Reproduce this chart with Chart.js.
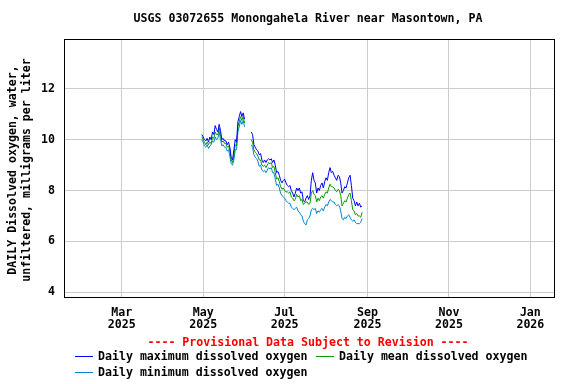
<!DOCTYPE html>
<html>
<head>
<meta charset="utf-8">
<script src="https://cdn.jsdelivr.net/npm/chart.js@4.4.0/dist/chart.umd.min.js"></script>
<style>
  html, body { margin: 0; padding: 0; background: #fff; }
  #wrap { width: 576px; height: 384px; }
</style>
</head>
<body>
<div id="wrap"><canvas id="grafico" width="576" height="384"></canvas></div>
<script>
// x values are days since Jan 1, 2025
const startDay = 119; // Apr 30, 2025, first daily value

const tickDays = [59, 120, 181, 243, 304, 365];
const tickLabels = [["Mar", "2025"], ["May", "2025"], ["Jul", "2025"], ["Sep", "2025"], ["Nov", "2025"], ["Jan", "2026"]];
const yTicks = [4, 6, 8, 10, 12];

// daily values, mg/L (null = missing day)
const dailyMax = [
  10.2, 10.1, 10.0, 9.95, 10.05, 9.9, 10.1, 10.0, 10.3, 10.2,
  10.55, 10.4, 10.3, 10.6, 10.35, 10.0, 10.05, 9.95, 9.95, 9.8,
  9.9, 9.7, 9.3, 9.2, 9.6, 10.0, 9.9, 10.7, 10.9, 11.1,
  10.9, 11.05, 10.8, null, null, null, null, 10.3, 10.2, 9.8,
  9.7, 9.6, 9.55, 9.4, 9.45, 9.2, 9.1, 9.2, 9.1, 9.2,
  9.25, 9.2, 9.25, 9.1, 9.2, 9.0, 8.7, 8.75, 8.6, 8.4,
  8.3, 8.4, 8.45, 8.3, 8.2, 8.15, 8.2, 8.0, 7.9, 7.75,
  7.9, 8.1, 8.0, 8.1, 7.9, 7.95, 7.6, 7.55, 7.7, 7.8,
  7.65, 7.8, 8.4, 8.7, 8.4, 8.3, 7.9, 8.1, 8.0, 8.2,
  8.3, 8.1, 8.35, 8.5, 8.4, 8.7, 8.9, 8.7, 8.75, 8.6,
  8.5, 8.4, 8.6, 8.55, 8.3, 7.9, 8.0, 8.15, 8.1, 8.3,
  8.5, 8.6, 8.2, 7.7, 7.6, 7.4, 7.55, 7.4, 7.5, 7.35,
  7.4
];
const dailyMean = [
  10.1, 10.0, 9.9, 9.8, 9.9, 9.8, 9.9, 9.85, 10.1, 10.05,
  10.3, 10.2, 10.2, 10.45, 10.2, 9.9, 9.95, 9.85, 9.85, 9.7,
  9.75, 9.55, 9.2, 9.1, 9.4, 9.8, 9.75, 10.5, 10.7, 10.9,
  10.75, 10.9, 10.65, null, null, null, null, 10.0, 9.9, 9.6,
  9.5, 9.45, 9.35, 9.2, 9.2, 9.0, 8.95, 9.0, 8.9, 9.0,
  9.1, 9.05, 9.1, 8.9, 8.95, 8.7, 8.45, 8.5, 8.35, 8.15,
  8.05, 8.1, 8.0, 7.95, 7.95, 7.9, 7.95, 7.75, 7.7, 7.6,
  7.65, 7.85, 7.75, 7.8, 7.6, 7.65, 7.45, 7.5, 7.55, 7.55,
  7.45, 7.5, 7.9, 8.0, 7.85, 7.8, 7.55, 7.7, 7.6, 7.75,
  7.8, 7.7, 7.85, 7.95, 7.9, 8.1, 8.25, 8.15, 8.15, 8.1,
  8.0, 7.95, 8.05, 8.0, 7.8, 7.4, 7.5, 7.6, 7.55, 7.7,
  7.85, 7.9, 7.6, 7.25, 7.2, 7.05, 7.1, 7.0, 7.0, 6.95,
  7.15
];
const dailyMin = [
  10.0, 9.9, 9.75, 9.7, 9.8, 9.65, 9.75, 9.8, 9.95, 9.9,
  10.1, 10.0, 10.05, 10.3, 10.0, 9.75, 9.8, 9.7, 9.7, 9.55,
  9.6, 9.35, 9.05, 9.0, 9.2, 9.6, 9.6, 10.3, 10.5, 10.75,
  10.6, 10.75, 10.5, null, null, null, null, 9.8, 9.7, 9.4,
  9.3, 9.25, 9.15, 8.95, 9.0, 8.8, 8.75, 8.8, 8.7, 8.8,
  8.9, 8.85, 8.9, 8.7, 8.7, 8.45, 8.2, 8.25, 8.1, 7.9,
  7.8, 7.75, 7.7, 7.6, 7.55, 7.5, 7.5, 7.35, 7.3, 7.25,
  7.3, 7.35, 7.2, 7.15, 7.05, 7.0, 6.8, 6.7, 6.65, 6.85,
  6.9, 7.0, 7.25, 7.3, 7.25, 7.3, 7.1, 7.2, 7.15, 7.25,
  7.3, 7.2, 7.35, 7.45, 7.4, 7.55, 7.65, 7.6, 7.55, 7.55,
  7.45, 7.4, 7.45, 7.4, 7.2, 6.9, 6.85, 6.95, 6.9, 7.0,
  7.05, 6.95, 6.85, 6.8, 6.85, 6.75, 6.7, 6.7, 6.7, 6.75,
  6.9
];

const colorMax = '#0000ff';
const colorMean = '#00a000';
const colorMin = '#0088d0';
const monoFont = "'DejaVu Sans Mono', 'Liberation Mono', monospace";

const toPoints = arr => arr.map((v, i) => ({ x: startDay + i, y: v }));

// texts drawn straight on the canvas (title, axis title, note, legend)
const decor = {
  id: 'decor',
  beforeDraw(chart) {
    const c = chart.ctx;
    c.save();
    c.fillStyle = '#fff';
    c.fillRect(0, 0, chart.width, chart.height);
    c.restore();
  },
  afterDraw(chart) {
    const c = chart.ctx;
    const a = chart.chartArea;
    c.save();
    c.strokeStyle = '#000';
    c.lineWidth = 1;
    c.strokeRect(a.left + 0.5, a.top + 0.5, a.right - a.left, a.bottom - a.top);

    c.fillStyle = '#000';
    c.textBaseline = 'middle';
    c.textAlign = 'center';
    c.font = 'bold 11.6px ' + monoFont;
    c.fillText('USGS 03072655 Monongahela River near Masontown, PA', 308, 19);

    c.save();
    c.translate(0, 170);
    c.rotate(-Math.PI / 2);
    c.fillText('DAILY Dissolved oxygen, water,', 0, 13);
    c.fillText('unfiltered, milligrams per liter', 0, 27);
    c.restore();

    c.fillStyle = '#ff0000';
    c.fillText('---- Provisional Data Subject to Revision ----', 308, 343);

    const items = [
      { text: 'Daily maximum dissolved oxygen', color: colorMax, x: 75, y: 357 },
      { text: 'Daily mean dissolved oxygen', color: colorMean, x: 316, y: 357 },
      { text: 'Daily minimum dissolved oxygen', color: colorMin, x: 75, y: 373 }
    ];
    c.textAlign = 'left';
    items.forEach(it => {
      c.strokeStyle = it.color;
      c.beginPath();
      c.moveTo(it.x, it.y - 0.5);
      c.lineTo(it.x + 18, it.y - 0.5);
      c.stroke();
      c.fillStyle = '#000';
      c.fillText(it.text, it.x + 23, it.y);
    });
    c.restore();
  }
};

const ctx = document.getElementById('grafico').getContext('2d');

new Chart(ctx, {
  type: 'line',
  data: {
    datasets: [
      { label: 'Daily maximum dissolved oxygen', data: toPoints(dailyMax), borderColor: colorMax },
      { label: 'Daily mean dissolved oxygen', data: toPoints(dailyMean), borderColor: colorMean },
      { label: 'Daily minimum dissolved oxygen', data: toPoints(dailyMin), borderColor: colorMin }
    ]
  },
  options: {
    responsive: false,
    animation: false,
    spanGaps: false,
    elements: {
      line: { borderWidth: 1, tension: 0, fill: false },
      point: { radius: 0 }
    },
    layout: { padding: { top: 39, right: 22, left: 0, bottom: 0 } },
    plugins: {
      legend: { display: false },
      title: { display: false },
      tooltip: { enabled: false }
    },
    scales: {
      x: {
        type: 'linear',
        min: 15.8,
        max: 382.7,
        afterBuildTicks: s => { s.ticks = tickDays.map(v => ({ value: v })); },
        afterFit: s => { s.height = 87; },
        grid: { color: '#cccccc', drawTicks: false },
        border: { display: false },
        ticks: {
          padding: 10,
          color: '#000',
          maxRotation: 0,
          autoSkip: false,
          font: { family: monoFont, size: 11.6, weight: 'bold', lineHeight: 1.05 },
          callback: (v, i) => tickLabels[i]
        }
      },
      y: {
        min: 3.82,
        max: 13.95,
        afterBuildTicks: s => { s.ticks = yTicks.map(v => ({ value: v })); },
        afterFit: s => { s.width = 64; },
        grid: { color: '#cccccc', drawTicks: false },
        border: { display: false },
        ticks: {
          padding: 9,
          color: '#000',
          font: { family: monoFont, size: 11.6, weight: 'bold' }
        }
      }
    }
  },
  plugins: [decor]
});
</script>
</body>
</html>
